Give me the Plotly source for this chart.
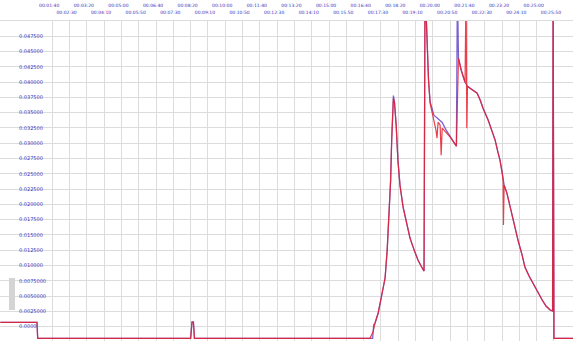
import plotly.graph_objects as go

# time in seconds, value of the signal
red_t = [-50, 56, 58, 500, 504, 508, 511, 1018, 1027, 1033, 1042, 1050, 1056, 1062, 1068, 1073, 1078, 1081,
         1083.5, 1086, 1089, 1094, 1099, 1105, 1114, 1122, 1134, 1146, 1157, 1166, 1174.5, 1177.4, 1182,
         1187.5, 1192, 1198, 1203, 1209, 1212, 1215, 1221, 1224, 1227, 1238, 1250, 1264, 1268, 1274, 1282,
         1293, 1296, 1298, 1300, 1307.5, 1328, 1337, 1345, 1360, 1371, 1380, 1388, 1394, 1400, 1403, 1404,
         1406, 1414, 1423, 1432, 1446, 1458, 1466, 1478, 1489, 1501, 1516, 1527, 1539, 1546, 1547.5, 1550, 1605]
red_v = [0.00072, 0.00072, -0.0019, -0.0019, 0.00077, 0.00077, -0.0019, -0.0019, -0.00087, 0.0006, 0.00224,
         0.00436, 0.006, 0.00796, 0.01253, 0.01825, 0.02397, 0.03051, 0.03623, 0.03737, 0.03672, 0.03296,
         0.02724, 0.02315, 0.01956, 0.01743, 0.01449, 0.01253, 0.0109, 0.00992, 0.0091, 0.056, 0.04848,
         0.04031, 0.03655, 0.03508, 0.0341, 0.03214, 0.03083, 0.03345, 0.03296, 0.02806, 0.03247, 0.03181,
         0.031, 0.02985, 0.02953, 0.04391, 0.04195, 0.03998, 0.056, 0.03247, 0.03933, 0.039, 0.03819, 0.03704,
         0.03574, 0.03377, 0.03214, 0.03051, 0.02855, 0.02724, 0.02528, 0.02397, 0.01662, 0.02315, 0.02185,
         0.01956, 0.01743, 0.01417, 0.01172, 0.00976, 0.00828, 0.00714, 0.00567, 0.00436, 0.00338, 0.00273,
         0.00257, 0.056, -0.0019, -0.0019]

blue_t = [-50, 56, 58, 500, 504, 508, 511, 1018, 1026, 1029, 1033, 1042, 1050, 1056, 1062, 1068, 1073, 1078,
          1081, 1083.5, 1086, 1089, 1094, 1099, 1105, 1114, 1122, 1134, 1146, 1157, 1166, 1174.5, 1177.4,
          1182, 1187.5, 1192, 1198, 1203, 1215, 1227, 1238, 1250, 1264, 1268, 1271, 1274, 1282, 1293, 1300,
          1307.5, 1328, 1337, 1345, 1360, 1371, 1380, 1388, 1394, 1400, 1406, 1414, 1423, 1432, 1446, 1458,
          1466, 1478, 1489, 1501, 1516, 1527, 1539, 1546, 1547.5, 1550, 1605]
blue_v = [0.00072, 0.00072, -0.0019, -0.0019, 0.00077, 0.00077, -0.0019, -0.0019, -0.0019, 0.0003, 0.0006,
          0.00224, 0.00436, 0.006, 0.00796, 0.01253, 0.01825, 0.02397, 0.03051, 0.03623, 0.0378, 0.03672,
          0.03296, 0.02724, 0.02315, 0.01956, 0.01743, 0.01449, 0.01253, 0.0109, 0.00992, 0.0091, 0.056,
          0.04848, 0.04031, 0.0368, 0.0355, 0.0346, 0.034, 0.0334, 0.0322, 0.0312, 0.0300, 0.02953, 0.056,
          0.04391, 0.04195, 0.03998, 0.03933, 0.039, 0.03819, 0.03704, 0.03574, 0.03377, 0.03214, 0.03051,
          0.02855, 0.02724, 0.02528, 0.02315, 0.02185, 0.01956, 0.01743, 0.01417, 0.01172, 0.00976, 0.00828,
          0.00714, 0.00567, 0.00436, 0.00338, 0.00273, 0.00257, 0.056, -0.0019, -0.0019]

x_row_low_vals = [50, 150, 250, 350, 450, 550, 650, 750, 850, 950, 1050, 1150, 1250, 1350, 1450, 1550]
x_row_low_text = ["00:00:50", "00:02:30", "00:04:10", "00:05:50", "00:07:30", "00:09:10", "00:10:50",
                  "00:12:30", "00:14:10", "00:15:50", "00:17:30", "00:19:10", "00:20:50", "00:22:30",
                  "00:24:10", "00:25:50"]
x_row_high_vals = [0, 100, 200, 300, 400, 500, 600, 700, 800, 900, 1000, 1100, 1200, 1300, 1400, 1500]
x_row_high_text = ["", "00:01:40", "00:03:20", "00:05:00", "00:06:40", "00:08:20", "00:10:00", "00:11:40",
                   "00:13:20", "00:15:00", "00:16:40", "00:18:20", "00:20:00", "00:21:40", "00:23:20",
                   "00:25:00"]

y_vals = [0.0, 0.0025, 0.005, 0.0075, 0.01, 0.0125, 0.015, 0.0175, 0.02, 0.0225, 0.025, 0.0275, 0.03,
          0.0325, 0.035, 0.0375, 0.04, 0.0425, 0.045, 0.0475]
y_text = ["0.0000", "0.0025000", "0.0050000", "0.0075000", "0.010000", "0.012500", "0.015000", "0.017500",
          "0.020000", "0.022500", "0.025000", "0.027500", "0.030000", "0.032500", "0.035000", "0.037500",
          "0.040000", "0.042500", "0.045000", "0.047500"]

label_color = "#3535c0"
grid_color = "#dcdcdc"

fig = go.Figure()
fig.add_trace(go.Scatter(x=blue_t, y=blue_v, mode="lines",
                         line=dict(color="rgba(100,70,200,0.85)", width=1.3), showlegend=False))
fig.add_trace(go.Scatter(x=red_t, y=red_v, mode="lines",
                         line=dict(color="rgba(230,30,45,0.85)", width=1.2), showlegend=False))
# dummy trace to activate second x axis
fig.add_trace(go.Scatter(x=[None], y=[None], xaxis="x2", showlegend=False, hoverinfo="skip"))

fig.update_layout(
    width=573, height=341,
    margin=dict(l=0, r=0, t=21, b=0),
    paper_bgcolor="white", plot_bgcolor="white",
    xaxis=dict(range=[-50.9, 1605], side="top", tickmode="array", tickvals=x_row_low_vals,
               ticktext=x_row_low_text, showgrid=True, gridcolor=grid_color, gridwidth=1,
               zeroline=False, ticks="", ticklabelstandoff=4, ticklabelshift=-3,
               tickfont=dict(family="DejaVu Sans", size=4.5, color=label_color),
               showline=True, linecolor=grid_color, mirror=False),
    xaxis2=dict(range=[-50.9, 1605], side="top", overlaying="x", matches="x", tickmode="array",
                tickvals=x_row_high_vals, ticktext=x_row_high_text, showgrid=True, gridcolor=grid_color,
                gridwidth=1, zeroline=False, ticks="", ticklabelstandoff=12, ticklabelshift=-3,
                tickfont=dict(family="DejaVu Sans", size=4.5, color=label_color)),
    yaxis=dict(range=[-0.00234, 0.05], tickmode="array", tickvals=y_vals, ticktext=y_text,
               ticklabelposition="inside", ticklabelstandoff=16, ticks="",
               showgrid=True, gridcolor=grid_color, gridwidth=1, zeroline=False,
               tickfont=dict(family="DejaVu Sans", size=5, color=label_color)),
    shapes=[dict(type="rect", xref="paper", yref="paper", x0=9 / 573, x1=15 / 573,
                 y0=(341 - 310) / 320, y1=(341 - 278) / 320,
                 fillcolor="#d4d4d4", line=dict(width=0), layer="above")],
)

fig.write_html("out.html")
